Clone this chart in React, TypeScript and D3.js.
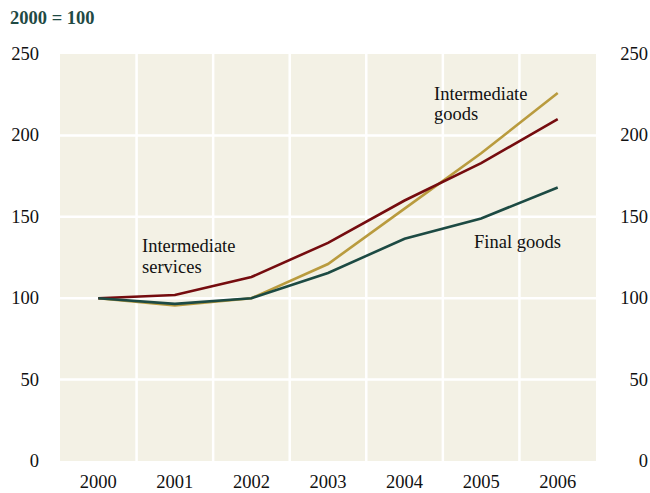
import React from "react";
import * as d3 from "d3";

const years = ["2000", "2001", "2002", "2003", "2004", "2005", "2006"];
const intermediateServices = [100, 102, 113, 134, 160, 183, 210];
const intermediateGoods = [100, 95.5, 100, 121, 155, 189, 226];
const finalGoods = [100, 96.5, 100, 115.5, 136.5, 149, 168];
const yTicks = [0, 50, 100, 150, 200, 250];

const series = [
  { name: "Intermediate goods", values: intermediateGoods, color: "#b99b3e" },
  { name: "Intermediate services", values: intermediateServices, color: "#750c0f" },
  { name: "Final goods", values: finalGoods, color: "#1c4a43" },
];

const width = 650;
const height = 493;
const left = 60;
const right = 596;
const top = 54;
const bottom = 461;
const font = "Liberation Serif, Times New Roman, DejaVu Serif, serif";
const fs = 18.5;

export default function App() {
  const xScale = d3.scaleBand().domain(years).range([left, right]);
  const yScale = d3.scaleLinear().domain([0, 250]).range([bottom, top]);

  const line = d3
    .line<number>()
    .x((d, i) => (xScale(years[i]) as number) + xScale.bandwidth() / 2)
    .y((d) => yScale(d));

  return (
    <svg
      width={width}
      height={height}
      style={{ position: "absolute", left: 0, top: 0, background: "#fff", fontFamily: font }}
    >
      {/* plot background */}
      <rect x={left} y={top} width={right - left} height={bottom - top} fill="#f3f1e5" />

      {/* grid */}
      {yTicks.slice(1, -1).map((t) => (
        <line key={t} x1={left} x2={right} y1={yScale(t)} y2={yScale(t)} stroke="#fff" strokeWidth={2.5} />
      ))}
      {years.slice(1).map((y) => (
        <line
          key={y}
          x1={xScale(y)}
          x2={xScale(y)}
          y1={top}
          y2={bottom}
          stroke="#fff"
          strokeWidth={2.5}
        />
      ))}

      {/* lines */}
      {series.map((s) => (
        <path key={s.name} d={line(s.values) as string} fill="none" stroke={s.color} strokeWidth={2.6} />
      ))}

      {/* y ticks both sides */}
      {yTicks.map((t) => (
        <React.Fragment key={t}>
          <text x={39} y={yScale(t)} dy="0.32em" textAnchor="end" fontSize={fs} fill="#111">
            {t}
          </text>
          <text x={648} y={yScale(t)} dy="0.32em" textAnchor="end" fontSize={fs} fill="#111">
            {t}
          </text>
        </React.Fragment>
      ))}

      {/* x labels */}
      {years.map((y) => (
        <text
          key={y}
          x={(xScale(y) as number) + xScale.bandwidth() / 2}
          y={488}
          textAnchor="middle"
          fontSize={fs}
          fill="#111"
        >
          {y}
        </text>
      ))}

      <text x={10} y={24} fontSize={18.5} fontWeight="bold" fill="#1f4a44">
        2000 = 100
      </text>

      {/* annotations */}
      <text x={142} y={252} fontSize={fs} fill="#111">
        Intermediate
      </text>
      <text x={142} y={273} fontSize={fs} fill="#111">
        services
      </text>
      <text x={434} y={100} fontSize={fs} fill="#111">
        Intermediate
      </text>
      <text x={434} y={120} fontSize={fs} fill="#111">
        goods
      </text>
      <text x={474} y={248} fontSize={fs} fill="#111">
        Final goods
      </text>
    </svg>
  );
}
